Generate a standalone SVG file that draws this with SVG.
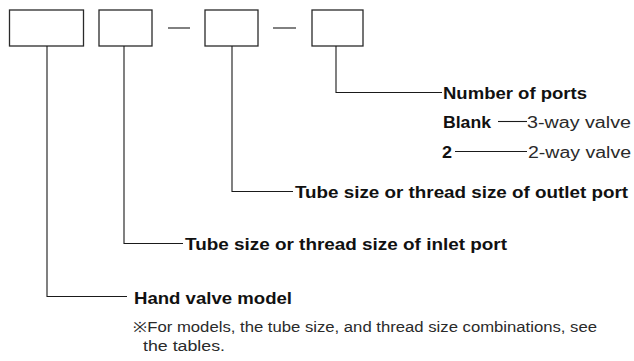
<svg xmlns="http://www.w3.org/2000/svg" width="634" height="361" viewBox="0 0 634 361">
<style>
.box{fill:#fff;stroke:#2a2a2a;stroke-width:1.3}
.ln{fill:none;stroke:#1a1a1a;stroke-width:1.1}
.b{font-family:"Liberation Sans",Arial,sans-serif;font-weight:bold;font-size:16px;fill:#111}
.r{font-family:"Liberation Sans",Arial,sans-serif;font-size:16px;fill:#2a2a2a}
.n{font-family:"Liberation Sans",Arial,sans-serif;font-size:14px;fill:#2a2a2a}
</style>
<rect width="634" height="361" fill="#fff"/>
<g id="box-model"><rect class="box" x="9.5" y="10" width="74" height="36"/></g>
<g id="box-inlet"><rect class="box" x="99" y="10" width="53" height="36"/></g>
<g id="dash1"><line class="ln" x1="168" y1="28" x2="190" y2="28"/></g>
<g id="box-outlet"><rect class="box" x="205" y="10" width="53" height="36"/></g>
<g id="dash2"><line class="ln" x1="273" y1="28" x2="296" y2="28"/></g>
<g id="box-ports"><rect class="box" x="312" y="10" width="51" height="36"/></g>
<g id="connectors">
<polyline class="ln" points="336,46 336,92.5 442,92.5"/>
<polyline class="ln" points="232,46 232,191.5 293,191.5"/>
<polyline class="ln" points="124,46 124,243.5 183,243.5"/>
<polyline class="ln" points="47,46 47,296.5 127,296.5"/>
<line class="ln" x1="498" y1="121.5" x2="527" y2="121.5"/>
<line class="ln" x1="455" y1="151.5" x2="527" y2="151.5"/>
</g>
<g id="label-ports">
<text class="b" x="443" y="98.5" textLength="144" lengthAdjust="spacingAndGlyphs">Number of ports</text>
<text class="b" x="443" y="128.3" textLength="48" lengthAdjust="spacingAndGlyphs">Blank</text>
<text class="r" x="527" y="128.3" textLength="104" lengthAdjust="spacingAndGlyphs">3-way valve</text>
<text class="b" x="442" y="158.3" textLength="10" lengthAdjust="spacingAndGlyphs">2</text>
<text class="r" x="528" y="158.3" textLength="103" lengthAdjust="spacingAndGlyphs">2-way valve</text>
</g>
<g id="label-outlet"><text class="b" x="295" y="197.8" textLength="333" lengthAdjust="spacingAndGlyphs">Tube size or thread size of outlet port</text></g>
<g id="label-inlet"><text class="b" x="185" y="249.8" textLength="322" lengthAdjust="spacingAndGlyphs">Tube size or thread size of inlet port</text></g>
<g id="label-model">
<text class="b" x="134" y="304" textLength="158" lengthAdjust="spacingAndGlyphs">Hand valve model</text>
<text class="n" x="133" y="332" textLength="464" lengthAdjust="spacingAndGlyphs">※For models, the tube size, and thread size combinations, see</text>
<text class="n" x="143" y="350.5" textLength="82" lengthAdjust="spacingAndGlyphs">the tables.</text>
</g>
</svg>
